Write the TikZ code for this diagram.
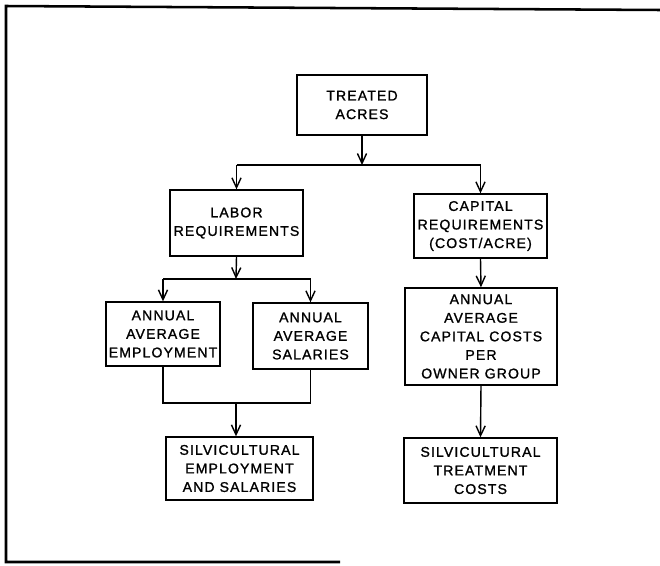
\documentclass[tikz,border=0pt]{standalone}
\usepackage{fontspec}
\setmainfont{Liberation Sans}[LetterSpace=8,FakeBold=1.2]
\usetikzlibrary{arrows.meta}

\begin{document}
\begin{tikzpicture}[x=0.025cm,y=-0.025cm,
    flowbox/.style={draw,line width=1pt,rectangle,align=center,inner sep=0pt,
      font=\fontsize{10}{13.2}\selectfont},
    flowline/.style={line width=1pt},
    flowarrow/.style={line width=1pt,-{Straight Barb[length=7pt,width=6.5pt]}}]

\def\FRAMEWIDTH{1.8pt}
	\useasboundingbox (0,0) rectangle (660,566);
	\draw[line width=\FRAMEWIDTH] (660,10) -- (6,6) -- (6,562) -- (340,562);

	% boxes
	\node[flowbox,minimum width=130*0.025cm,minimum height=60*0.025cm] (treated) at (362,105) {TREATED\\ACRES};
	\node[flowbox,minimum width=133*0.025cm,minimum height=66*0.025cm] (labor) at (236.5,223) {LABOR\\REQUIREMENTS};
	\node[flowbox,minimum width=133*0.025cm,minimum height=64*0.025cm] (capital) at (480.5,226) {CAPITAL\\REQUIREMENTS\\(COST/ACRE)};
	\node[flowbox,minimum width=114*0.025cm,minimum height=64*0.025cm] (employment) at (163,334) {ANNUAL\\AVERAGE\\EMPLOYMENT};
	\node[flowbox,minimum width=115*0.025cm,minimum height=66*0.025cm] (salaries) at (310.5,336) {ANNUAL\\AVERAGE\\SALARIES};
	\node[flowbox,minimum width=147*0.025cm,minimum height=63*0.025cm] (silvempl) at (239.5,468.5) {SILVICULTURAL\\EMPLOYMENT\\AND SALARIES};
	\node[flowbox,minimum width=152*0.025cm,minimum height=97*0.025cm] (capcosts) at (481,336.5) {ANNUAL\\AVERAGE\\CAPITAL COSTS\\PER\\OWNER GROUP};
	\node[flowbox,minimum width=153*0.025cm,minimum height=65*0.025cm] (silvtreat) at (480.5,470.5) {SILVICULTURAL\\TREATMENT\\COSTS};

	% junctions
	\coordinate (splitone) at (362,165);
	\coordinate (splittwo) at (236,279);
	\coordinate (jointwo) at (236,403);

	% connectors
	\draw[flowarrow] (treated.south) -- (splitone);
	\draw[flowline] (labor.north |- splitone) -- (capital.north |- splitone);
	\draw[flowarrow] (labor.north |- splitone) -- (labor.north);
	\draw[flowarrow] (capital.north |- splitone) -- (capital.north);
	\draw[flowarrow] (labor.south) -- (splittwo);
	\draw[flowline] (employment.north |- splittwo) -- (salaries.north |- splittwo);
	\draw[flowarrow] (employment.north |- splittwo) -- (employment.north);
	\draw[flowarrow] (salaries.north |- splittwo) -- (salaries.north);
	\draw[flowline] (employment.south) -- (employment.south |- jointwo) -- (salaries.south |- jointwo) -- (salaries.south);
	\draw[flowarrow] (jointwo) -- (silvempl.north -| jointwo);
	\draw[flowarrow] (capital.south) -- (capcosts.north);
	\draw[flowarrow] (capcosts.south) -- (silvtreat.north);

\end{tikzpicture}
\end{document}
